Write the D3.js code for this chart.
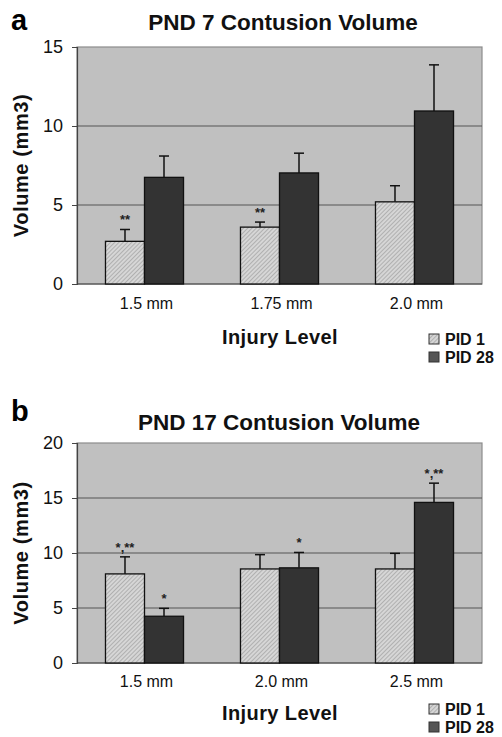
<!DOCTYPE html>
<html>
<head>
<meta charset="utf-8">
<script src="https://cdn.jsdelivr.net/npm/d3@7"></script>
<style>
  body { margin: 0; background: #fff; }
  svg { font-family: "Liberation Sans", Arial, sans-serif; }
</style>
</head>
<body>
<svg id="chart" width="502" height="737"></svg>
<script>
// panel a - PND 7
const catsA = ["1.5 mm", "1.75 mm", "2.0 mm"];
const pid1A = [2.7, 3.6, 5.2];
const pid1ErrA = [0.75, 0.32, 1.02];
const pid28A = [6.75, 7.03, 10.95];
const pid28ErrA = [1.35, 1.25, 2.92];
const starsA1 = ["**", "**", ""];
const starsA28 = ["", "", ""];
const ticksA = [0, 5, 10, 15];

// panel b - PND 17
const catsB = ["1.5 mm", "2.0 mm", "2.5 mm"];
const pid1B = [8.1, 8.55, 8.55];
const pid1ErrB = [1.55, 1.3, 1.42];
const pid28B = [4.25, 8.65, 14.6];
const pid28ErrB = [0.72, 1.4, 1.75];
const starsB1 = ["*,**", "", ""];
const starsB28 = ["*", "*", "*,**"];
const ticksB = [0, 5, 10, 15, 20];

const seriesNames = ["PID 1", "PID 28"];

const svg = d3.select("#chart");

// hatch pattern for PID 1 bars
const defs = svg.append("defs");
const pat = defs.append("pattern")
    .attr("id", "hatch")
    .attr("patternUnits", "userSpaceOnUse")
    .attr("width", 3)
    .attr("height", 3)
    .attr("patternTransform", "rotate(45)");
pat.append("rect").attr("width", 3).attr("height", 3).attr("fill", "#d6d6d6");
pat.append("line")
    .attr("x1", 0).attr("y1", 0).attr("x2", 0).attr("y2", 3)
    .attr("stroke", "#909090").attr("stroke-width", 1.1);

function drawPanel(cfg) {
    const g = svg.append("g");
    const x = d3.scaleBand()
        .domain(cfg.cats)
        .range([77, 482])
        .paddingInner(0.422)
        .paddingOuter(0.211);
    const xs = d3.scaleBand()
        .domain([0, 1])
        .range([0, x.bandwidth()]);
    const y = d3.scaleLinear()
        .domain([0, cfg.ticks[cfg.ticks.length - 1]])
        .range([cfg.bottom, cfg.top]);

    // plot background
    g.append("rect")
        .attr("x", 77).attr("y", y(cfg.ticks[cfg.ticks.length - 1]))
        .attr("width", 405).attr("height", cfg.bottom - cfg.top)
        .attr("fill", "#c0c0c0")
        .attr("stroke", "#8c8c8c")
        .attr("stroke-width", 1.2);

    // gridlines
    g.selectAll(".grid")
        .data(cfg.ticks.slice(1, -1))
        .enter().append("line")
        .attr("x1", 77).attr("x2", 482)
        .attr("y1", d => y(d)).attr("y2", d => y(d))
        .attr("stroke", "#555")
        .attr("stroke-width", 1);

    // y axis
    const ya = g.append("g")
        .attr("transform", "translate(77,0)")
        .call(d3.axisLeft(y).tickValues(cfg.ticks).tickSize(5).tickPadding(9));
    ya.select(".domain").attr("stroke", "#444").attr("stroke-width", 1.2);
    ya.selectAll(".tick line").attr("stroke", "#444");
    ya.selectAll("text")
        .attr("font-size", 18)
        .attr("font-family", "Liberation Sans, Arial, sans-serif")
        .attr("fill", "#111");

    // baseline
    g.append("line")
        .attr("x1", 77).attr("x2", 482)
        .attr("y1", y(0)).attr("y2", y(0))
        .attr("stroke", "#444").attr("stroke-width", 1.2);

    // x tick labels
    g.selectAll(".xlab")
        .data(cfg.cats)
        .enter().append("text")
        .attr("x", d => x(d) + x.bandwidth() / 2 + 2)
        .attr("y", cfg.xLabY)
        .attr("text-anchor", "middle")
        .attr("font-size", 16)
        .attr("fill", "#111")
        .text(d => d);

    const series = [
        { vals: cfg.pid1, err: cfg.pid1Err, stars: cfg.stars1, fill: "url(#hatch)" },
        { vals: cfg.pid28, err: cfg.pid28Err, stars: cfg.stars28, fill: "#333333" }
    ];

    series.forEach((s, si) => {
        const rows = cfg.cats.map((c, i) => ({ c, v: s.vals[i], e: s.err[i], st: s.stars[i] }));
        const cx = d => x(d.c) + xs(si) + xs.bandwidth() / 2;

        // error bars (upper only)
        g.selectAll(null).data(rows).enter().append("line")
            .attr("x1", cx).attr("x2", cx)
            .attr("y1", d => y(d.v)).attr("y2", d => y(d.v + d.e))
            .attr("stroke", "#111").attr("stroke-width", 1.5);
        g.selectAll(null).data(rows).enter().append("line")
            .attr("x1", d => cx(d) - 5).attr("x2", d => cx(d) + 5)
            .attr("y1", d => y(d.v + d.e)).attr("y2", d => y(d.v + d.e))
            .attr("stroke", "#111").attr("stroke-width", 1.5);

        g.selectAll(null).data(rows).enter().append("rect")
            .attr("x", d => x(d.c) + xs(si))
            .attr("y", d => y(d.v))
            .attr("width", xs.bandwidth())
            .attr("height", d => y(0) - y(d.v))
            .attr("fill", s.fill)
            .attr("stroke", "#111")
            .attr("stroke-width", 1.3);

        // significance marks
        g.selectAll(null).data(rows.filter(d => d.st)).enter().append("text")
            .attr("x", cx)
            .attr("y", d => y(d.v + d.e) - 5)
            .attr("text-anchor", "middle")
            .attr("font-size", 13)
            .attr("font-weight", "bold")
            .attr("fill", "#222")
            .text(d => d.st);
    });

    // panel letter
    g.append("text")
        .attr("x", 11).attr("y", cfg.letterY)
        .attr("font-size", 29).attr("font-weight", "bold")
        .text(cfg.letter);

    // title
    g.append("text")
        .attr("x", cfg.titleX).attr("y", cfg.titleY)
        .attr("text-anchor", "middle")
        .attr("font-size", 22.5).attr("font-weight", "bold")
        .attr("fill", "#111")
        .text(cfg.title);

    // y axis title
    g.append("text")
        .attr("transform", `translate(28,${(cfg.top + cfg.bottom) / 2}) rotate(-90)`)
        .attr("text-anchor", "middle")
        .attr("font-size", 20).attr("font-weight", "bold")
        .attr("letter-spacing", 0.6)
        .attr("fill", "#111")
        .text("Volume (mm3)");

    // x axis title
    g.append("text")
        .attr("x", 280).attr("y", cfg.xTitleY)
        .attr("text-anchor", "middle")
        .attr("font-size", 20).attr("font-weight", "bold")
        .attr("letter-spacing", 0.4)
        .attr("fill", "#111")
        .text("Injury Level");

    // legend
    const lg = g.append("g").attr("transform", `translate(429,${cfg.legendY})`);
    seriesNames.forEach((n, i) => {
        lg.append("rect")
            .attr("x", 0).attr("y", i * 18)
            .attr("width", 10).attr("height", 10)
            .attr("fill", i === 0 ? "url(#hatch)" : "#555")
            .attr("stroke", "#333").attr("stroke-width", 1);
        lg.append("text")
            .attr("x", 16).attr("y", i * 18 + 11)
            .attr("font-size", 16).attr("font-weight", "bold")
            .attr("fill", "#111")
            .text(n);
    });
}

drawPanel({
    letter: "a", letterY: 30,
    title: "PND 7 Contusion Volume", titleX: 283, titleY: 30,
    cats: catsA, pid1: pid1A, pid1Err: pid1ErrA, pid28: pid28A, pid28Err: pid28ErrA,
    stars1: starsA1, stars28: starsA28, ticks: ticksA,
    top: 47, bottom: 284,
    xLabY: 309, xTitleY: 344, legendY: 334
});

drawPanel({
    letter: "b", letterY: 421,
    title: "PND 17 Contusion Volume", titleX: 279, titleY: 430,
    cats: catsB, pid1: pid1B, pid1Err: pid1ErrB, pid28: pid28B, pid28Err: pid28ErrB,
    stars1: starsB1, stars28: starsB28, ticks: ticksB,
    top: 443, bottom: 663,
    xLabY: 687, xTitleY: 720, legendY: 704
});
</script>
</body>
</html>
